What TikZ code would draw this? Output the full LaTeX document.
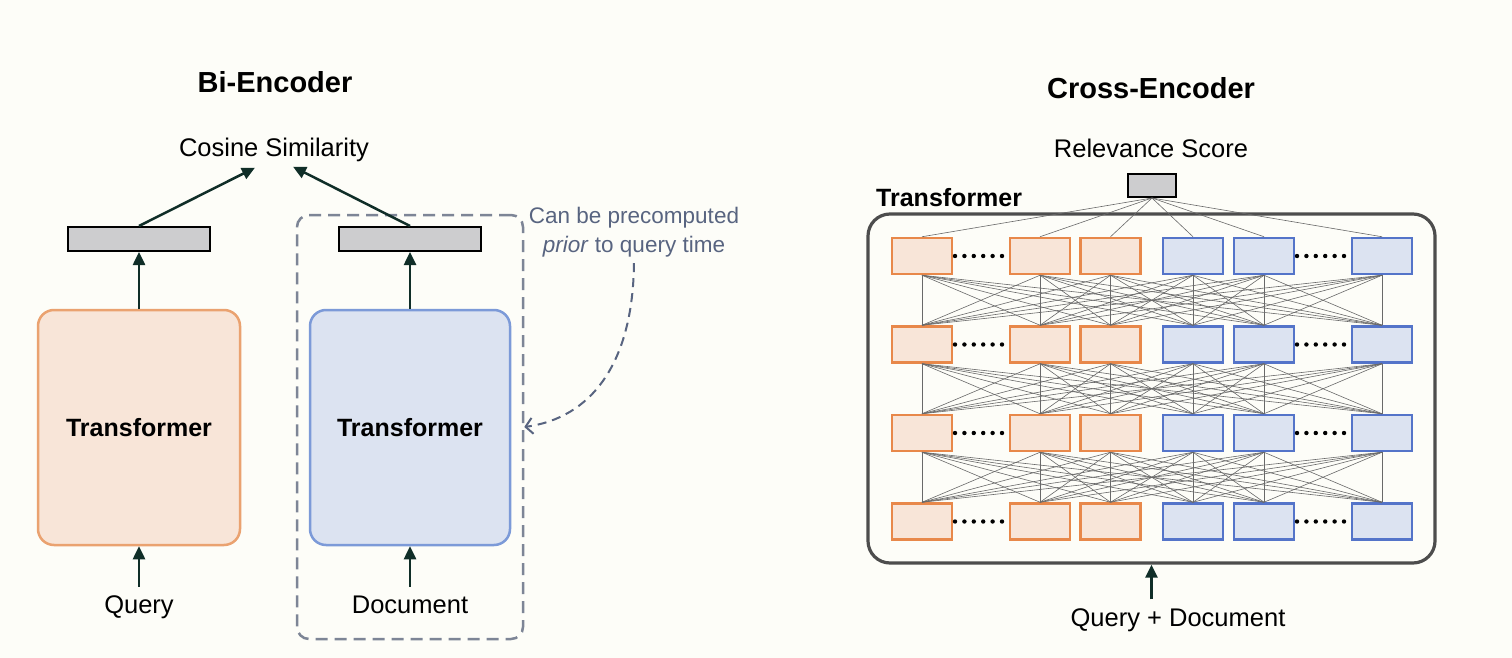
\documentclass[tikz,border=0pt]{standalone}
\usepackage{fontspec}
\setmainfont{Liberation Sans}
\usetikzlibrary{arrows.meta,calc}
\definecolor{bgc}{RGB}{253,253,248}
\definecolor{arrc}{RGB}{16,46,40}
\definecolor{ofill}{RGB}{248,229,216}
\definecolor{oedge}{RGB}{234,162,112}
\definecolor{oedgeb}{RGB}{232,136,74}
\definecolor{bfill}{RGB}{220,227,241}
\definecolor{bedge}{RGB}{124,154,216}
\definecolor{bedgeb}{RGB}{84,116,201}
\definecolor{barfill}{RGB}{205,205,207}
\definecolor{dashc}{RGB}{125,133,150}
\definecolor{notec}{RGB}{88,100,128}
\definecolor{framec}{RGB}{77,77,77}
\definecolor{linkc}{RGB}{105,105,105}
\begin{document}
\begin{tikzpicture}[x=1pt,y=-1pt,
  title/.style={font=\bfseries\fontsize{29}{34}\selectfont, inner sep=2pt},
  lbl/.style={font=\fontsize{25.5}{30}\selectfont, inner sep=2pt, text height=18.5pt, text depth=5.5pt},
  tflbl/.style={font=\bfseries\fontsize{25}{30}\selectfont, inner sep=2pt},
  bar/.style={draw=black, line width=2pt, fill=barfill, minimum width=142pt, minimum height=24pt, inner sep=0pt},
  obig/.style={draw=oedge, fill=ofill, line width=2.5pt, rounded corners=16pt, minimum width=202pt, minimum height=235pt, font=\bfseries\fontsize{25}{30}\selectfont},
  bbig/.style={draw=bedge, fill=bfill, line width=2.5pt, rounded corners=16pt, minimum width=200pt, minimum height=235pt, font=\bfseries\fontsize{25}{30}\selectfont},
  dashbox/.style={draw=dashc, line width=2.5pt, dash pattern=on 12pt off 7pt, rounded corners=12pt, minimum width=226pt, minimum height=424pt},
  note/.style={font=\fontsize{22.5}{29}\selectfont, text=notec, align=center, inner sep=1pt},
  arr/.style={draw=arrc, line width=2.5pt, -{Triangle[length=13pt,width=12pt]}},
  darr/.style={draw=notec, line width=2pt, dash pattern=on 9pt off 6pt, -{Straight Barb[length=7pt,width=16pt,line width=2pt]}},
  obox/.style={draw=oedgeb, fill=ofill, line width=2.5pt, minimum width=60pt, minimum height=36pt, inner sep=0pt},
  bbox/.style={draw=bedgeb, fill=bfill, line width=2.5pt, minimum width=60pt, minimum height=36pt, inner sep=0pt},
  link/.style={draw=linkc, line width=0.6pt},
  frame/.style={draw=framec, line width=3.2pt, rounded corners=22pt, minimum width=567pt, minimum height=349pt}
]
\useasboundingbox (0,0) rectangle (1512,658);
\fill[bgc] (0,0) rectangle (1512,658);

% ---------------- Bi-Encoder ----------------
\node[title] (bititle) at (275,82) {Bi-Encoder};
\node[lbl] (cos) at (274,150.5) {Cosine Similarity};
\node[dashbox] (pre) at (410,427) {};
\node[bar] (qbar) at (139,239) {};
\node[bar] (dbar) at (410,239) {};
\node[obig] (qtf) at (139,427.5) {Transformer};
\node[bbig] (dtf) at (410,427.5) {Transformer};
\node[lbl] (qtxt) at (139,607) {Query};
\node[lbl] (dtxt) at (410,607) {Document};
\node[note] (pnote) at (634,232) {Can be precomputed\\\textit{prior} to query time};

\draw[arr, shorten <=6pt] (qtxt.north) -- (qtf.south);
\draw[arr, shorten <=6pt] (dtxt.north) -- (dtf.south);
\draw[arr] (qtf.north) -- (qbar.south);
\draw[arr] (dtf.north) -- (dbar.south);
\draw[arr] (qbar.north) -- ([xshift=-19pt,yshift=-3pt]cos.south);
\draw[arr] (dbar.north) -- ([xshift=19pt,yshift=-2pt]cos.south);
\draw[darr, shorten <=5pt] (pnote.south) .. controls (633,365) and (590,418) .. (pre.east);

% ---------------- Cross-Encoder ----------------
\node[title] (crtitle) at (1151,88) {Cross-Encoder};
\node[lbl] (rel) at (1151,151) {Relevance Score};
\node[draw=black, line width=2pt, fill=barfill, minimum width=48pt, minimum height=23pt, inner sep=0pt] (sc) at (1152,185.5) {};
\node[tflbl, anchor=west] (xlbl) at (874,198) {Transformer};
\node[frame] (xf) at (1151.5,388.5) {};

\foreach \r/\y in {1/256,2/344.5,3/433,4/521.5} {
  \foreach \c/\x in {1/922,2/1040,3/1110.5}
    \node[obox] (b\r\c) at (\x,\y) {};
  \foreach \c/\x in {4/1193,5/1264,6/1382}
    \node[bbox] (b\r\c) at (\x,\y) {};
  \foreach \k in {0,...,5} {
    \fill (955+\k*9.4,\y) circle (2.2pt);
    \fill (1297+\k*9.4,\y) circle (2.2pt);
  }
}
\foreach \j in {1,...,6}
  \draw[link] (sc.south) -- (b1\j.north);
\foreach \r/\s in {1/2,2/3,3/4}
  \foreach \i in {1,...,6}
    \foreach \j in {1,...,6}
      \draw[link] (b\r\i.south) -- (b\s\j.north);

\node[lbl] (qd) at (1178,619.5) {Query + Document};
\draw[arr, shorten <=6pt] (qd.north -| xf.south) -- (xf.south);
\end{tikzpicture}
\end{document}
